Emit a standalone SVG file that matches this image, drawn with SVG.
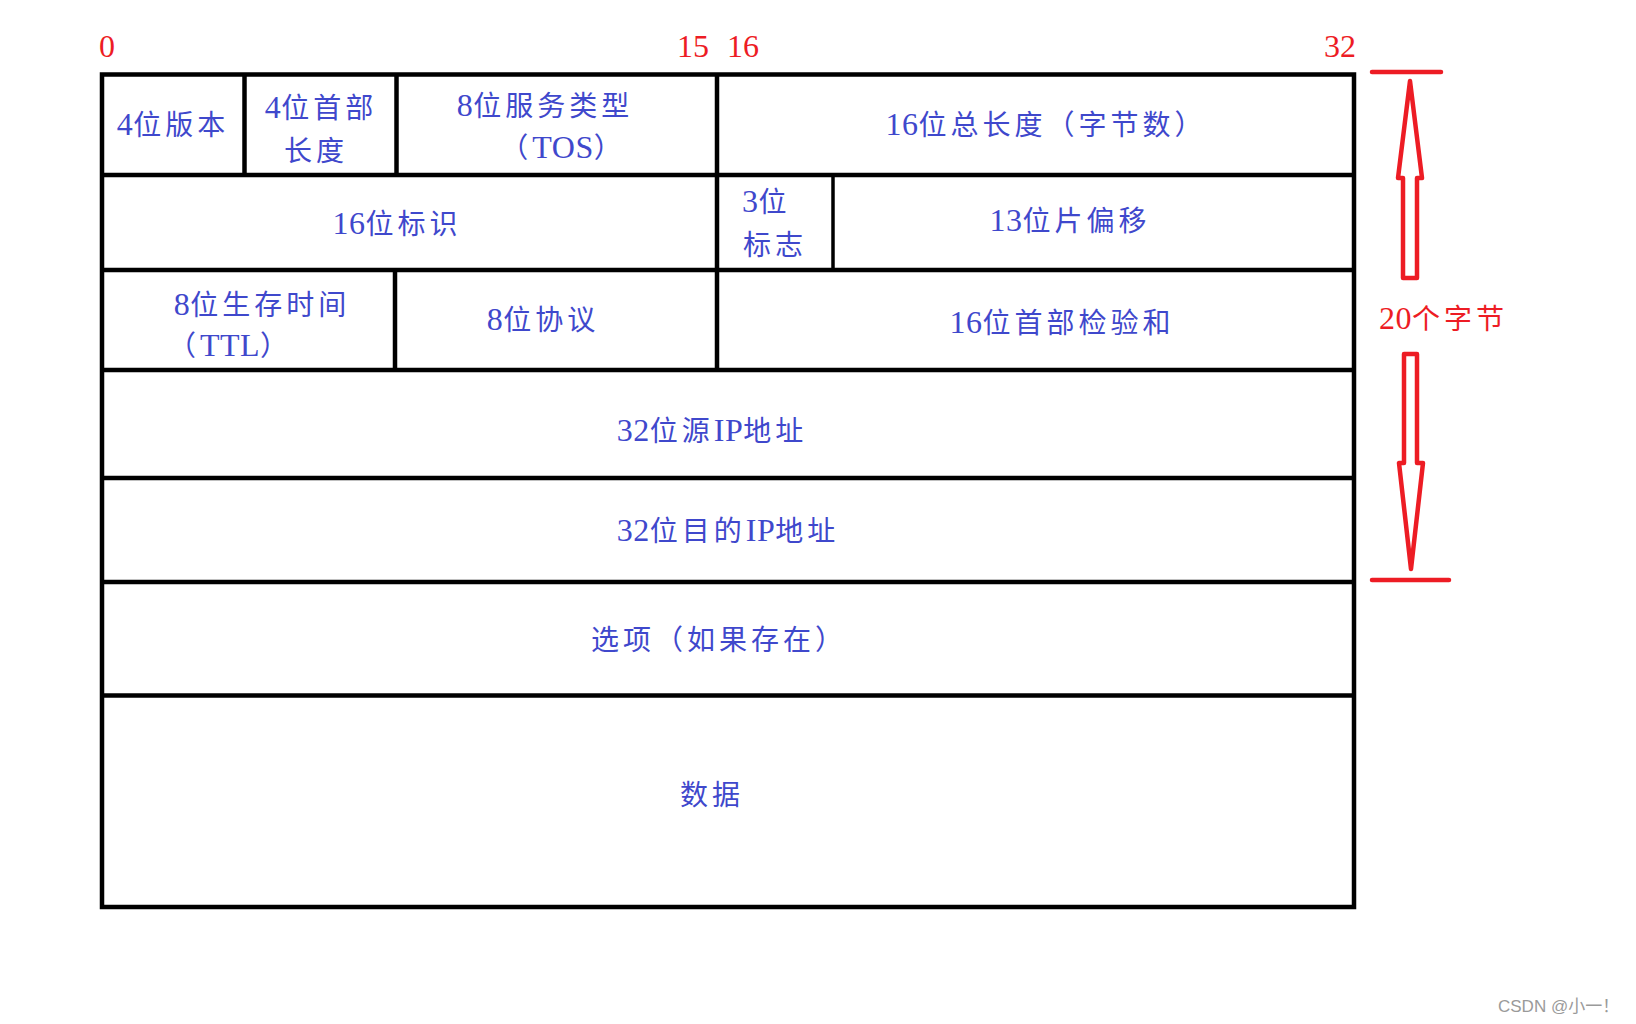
<svg xmlns="http://www.w3.org/2000/svg" width="1636" height="1024" viewBox="0 0 1636 1024">
<style>
.frame{fill:none;stroke:#000;stroke-width:4.5}
.ln{stroke:#000;stroke-width:4.5}
.ln2{stroke:#000;stroke-width:3.5}
.t{font-family:"Liberation Serif","Noto Sans CJK SC",serif;font-size:28px;fill:#3F48CC;letter-spacing:4px;text-anchor:middle}
.tl{font-family:"Liberation Serif","Noto Sans CJK SC",serif;font-size:28px;fill:#3F48CC;letter-spacing:4px}
.d{font-size:32px;letter-spacing:0.5px}
.r{font-family:"Liberation Serif","Noto Sans CJK SC",serif;font-size:32px;fill:#ED1C24}
.rt{font-family:"Liberation Serif","Noto Sans CJK SC",serif;font-size:28px;fill:#ED1C24;letter-spacing:4px}
.arr{fill:none;stroke:#ED1C24;stroke-width:4.5;stroke-linejoin:round}
.bar{stroke:#ED1C24;stroke-width:4.5;stroke-linecap:round}
.wm{font-family:"Liberation Sans","Noto Sans CJK SC",sans-serif;font-size:17px;fill:#9a9a9a}
</style>
<rect width="1636" height="1024" fill="#fff"/>
<g id="bit-labels">
<text class="r" x="99" y="57">0</text>
<text class="r" x="677" y="57">15</text>
<text class="r" x="727" y="57">16</text>
<text class="r" x="1324" y="57">32</text>
</g>
<g id="frame">
<rect class="frame" x="102" y="74.5" width="1252" height="832.5"/>
<line class="ln" x1="102" y1="175" x2="1354" y2="175"/>
<line class="ln" x1="102" y1="270" x2="1354" y2="270"/>
<line class="ln" x1="102" y1="370" x2="1354" y2="370"/>
<line class="ln" x1="102" y1="478" x2="1354" y2="478"/>
<line class="ln" x1="102" y1="582" x2="1354" y2="582"/>
<line class="ln" x1="102" y1="695.5" x2="1354" y2="695.5"/>
<line class="ln" x1="244.5" y1="74.5" x2="244.5" y2="175"/>
<line class="ln" x1="396.5" y1="74.5" x2="396.5" y2="175"/>
<line class="ln" x1="717" y1="74.5" x2="717" y2="370"/>
<line class="ln2" x1="833" y1="175" x2="833" y2="270"/>
<line class="ln" x1="395" y1="270" x2="395" y2="370"/>
</g>
<g id="n-version"><text class="t" x="173" y="135"><tspan class="d">4</tspan>位版本</text></g>
<g id="n-ihl"><text class="t" x="321" y="118"><tspan class="d">4</tspan>位首部</text><text class="t" x="316" y="161">长度</text></g>
<g id="n-tos"><text class="t" x="545" y="116"><tspan class="d">8</tspan>位服务类型</text><text class="t" x="563" y="158">（<tspan class="d">TOS</tspan>）</text></g>
<g id="n-total"><text class="t" x="1046" y="135"><tspan class="d">16</tspan>位总长度（字节数）</text></g>
<g id="n-id"><text class="t" x="397" y="234"><tspan class="d">16</tspan>位标识</text></g>
<g id="n-flags"><text class="tl" x="742" y="212"><tspan class="d">3</tspan>位</text><text class="tl" x="743" y="255">标志</text></g>
<g id="n-frag"><text class="t" x="1070" y="231"><tspan class="d">13</tspan>位片偏移</text></g>
<g id="n-ttl"><text class="t" x="262" y="315"><tspan class="d">8</tspan>位生存时间</text><text class="t" x="230" y="356">（<tspan class="d">TTL</tspan>）</text></g>
<g id="n-proto"><text class="t" x="543" y="330"><tspan class="d">8</tspan>位协议</text></g>
<g id="n-checksum"><text class="t" x="1062" y="333"><tspan class="d">16</tspan>位首部检验和</text></g>
<g id="n-src"><text class="t" x="712" y="441"><tspan class="d">32</tspan>位源<tspan class="d">IP</tspan>地址</text></g>
<g id="n-dst"><text class="t" x="728" y="541"><tspan class="d">32</tspan>位目的<tspan class="d">IP</tspan>地址</text></g>
<g id="n-opt"><text class="t" x="719" y="650">选项（如果存在）</text></g>
<g id="n-data"><text class="t" x="712" y="805">数据</text></g>
<g id="connectors">
<line class="bar" x1="1372" y1="72" x2="1441" y2="72"/>
<polygon class="arr" points="1410,81 1422,178 1417,178 1417,278 1403,278 1403,178 1398,178"/>
<polygon class="arr" points="1404,354 1417,354 1417,463 1423,463 1411,569 1399,463 1404,463"/>
<line class="bar" x1="1372" y1="580" x2="1449" y2="580"/>
</g>
<g id="size-label"><text class="rt" x="1379" y="329"><tspan class="d">20</tspan>个字节</text></g>
<g id="watermark"><text class="wm" x="1498" y="1012">CSDN @小一！</text></g>
</svg>
